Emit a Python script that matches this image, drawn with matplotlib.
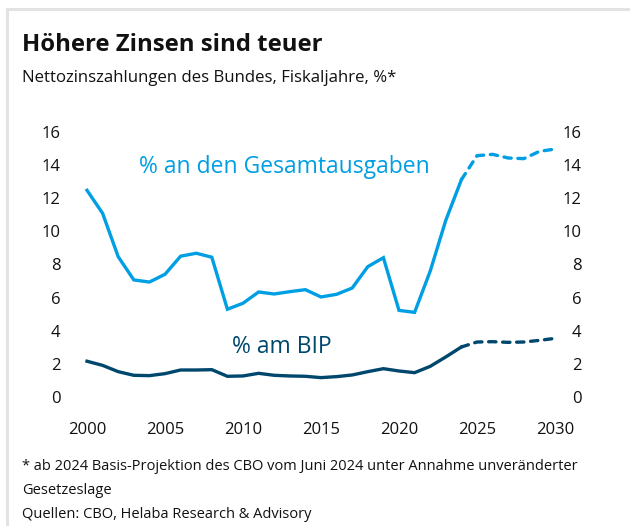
import matplotlib
matplotlib.use('Agg')
import matplotlib.pyplot as plt
from matplotlib.lines import Line2D

plt.rcParams['font.family'] = ['Open Sans', 'DejaVu Sans']

# Fiskaljahre
years = list(range(2000, 2031))
# % an den Gesamtausgaben
gesamt = [12.48, 11.09, 8.47, 7.07, 6.94, 7.41, 8.50, 8.68, 8.44, 5.30,
          5.66, 6.34, 6.22, 6.36, 6.48, 6.04, 6.20, 6.58, 7.87, 8.41,
          5.23, 5.11, 7.60, 10.67, 13.12, 14.57, 14.65, 14.43, 14.39, 14.83,
          14.97]
# % am BIP
bip = [2.16, 1.91, 1.53, 1.31, 1.29, 1.41, 1.63, 1.63, 1.65, 1.25,
       1.27, 1.43, 1.31, 1.27, 1.25, 1.17, 1.23, 1.33, 1.53, 1.71,
       1.57, 1.47, 1.85, 2.42, 3.02, 3.32, 3.34, 3.30, 3.32, 3.42,
       3.54]
proj_start = 2024
yticks = [0, 2, 4, 6, 8, 10, 12, 14, 16]
xticks = [2000, 2005, 2010, 2015, 2020, 2025, 2030]

light = '#009fe3'
dark = '#00476e'

W, H = 630, 526
fig = plt.figure(figsize=(W / 100, H / 100), dpi=100)

# Rahmen oben / links
fig.add_artist(Line2D([7 / W, 1], [1 - 9 / H, 1 - 9 / H], color='#e3e3e3', lw=2.2))
fig.add_artist(Line2D([7 / W, 7 / W], [0, 1 - 9 / H], color='#e3e3e3', lw=2.2))

x0, x1, y0, y1 = 87, 555, 132, 397
ax = fig.add_axes([x0 / W, 1 - y1 / H, (x1 - x0) / W, (y1 - y0) / H])

i = years.index(proj_start)
for vals, col in [(gesamt, light), (bip, dark)]:
    ax.plot(years[:i + 1], vals[:i + 1], color=col, lw=2.4, clip_on=False,
            solid_joinstyle='miter')
    ax.plot(years[i:], vals[i:], color=col, lw=2.4, ls=(0, (2.2, 2.0)),
            dash_capstyle='round', clip_on=False)

ax.set_xlim(2000, 2030)
ax.set_ylim(0, 16)
ax.set_yticks(yticks)
ax.set_xticks(xticks)
ax.tick_params(length=0, labelsize=12, colors='#111111')
ax.tick_params(axis='y', pad=19, labelright=True, labelleft=True)
ax.tick_params(axis='x', pad=18)
for lab in ax.get_yticklabels():
    lab.set_horizontalalignment('right')
for s in ax.spines.values():
    s.set_visible(False)

ax.text(2003.35, 13.9, '% an den Gesamtausgaben', color=light, fontsize=16.5,
        va='center', ha='left')
ax.text(2009.3, 3.0, '% am BIP', color=dark, fontsize=16.5, va='center', ha='left')

fig.text(22 / W, 1 - 45 / H, 'Höhere Zinsen sind teuer', fontsize=17.2,
         fontweight='bold', va='center', ha='left', color='#111111')
fig.text(22 / W, 1 - 78 / H, 'Nettozinszahlungen des Bundes, Fiskaljahre, %*',
         fontsize=12.1, va='center', ha='left', color='#111111')
fig.text(22 / W, 1 - 466 / H,
         '* ab 2024 Basis-Projektion des CBO vom Juni 2024 unter Annahme unveränderter',
         fontsize=10.5, va='center', ha='left', color='#111111')
fig.text(22 / W, 1 - 491 / H, 'Gesetzeslage', fontsize=10.5, va='center',
         ha='left', color='#111111')
fig.text(22 / W, 1 - 514 / H, 'Quellen: CBO, Helaba Research & Advisory',
         fontsize=10.5, va='center', ha='left', color='#111111')

fig.savefig('out.png', dpi=100)
